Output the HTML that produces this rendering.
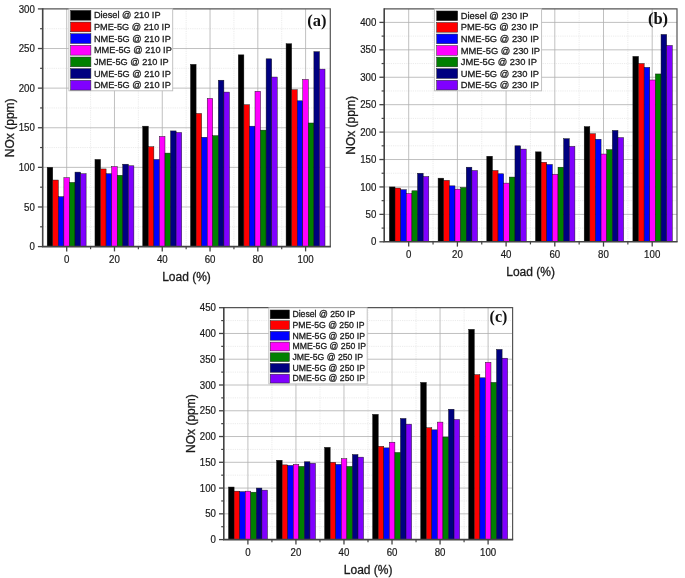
<!DOCTYPE html>
<html><head><meta charset="utf-8"><title>NOx vs Load</title>
<style>html,body{margin:0;padding:0;background:#fff;}svg{display:block;}svg{filter:blur(0.5px);}</style>
</head><body>
<svg width="685" height="578" viewBox="0 0 685 578" font-family="'Liberation Sans', sans-serif" fill="#1a1a1a">
<rect width="685" height="578" fill="#ffffff"/>
<g><line x1="42.7" y1="226.79" x2="330.3" y2="226.79" stroke="#e9e9e9" stroke-width="0.9" stroke-dasharray="1.2 1"/><line x1="42.7" y1="187.18" x2="330.3" y2="187.18" stroke="#e9e9e9" stroke-width="0.9" stroke-dasharray="1.2 1"/><line x1="42.7" y1="147.56" x2="330.3" y2="147.56" stroke="#e9e9e9" stroke-width="0.9" stroke-dasharray="1.2 1"/><line x1="42.7" y1="107.94" x2="330.3" y2="107.94" stroke="#e9e9e9" stroke-width="0.9" stroke-dasharray="1.2 1"/><line x1="42.7" y1="68.32" x2="330.3" y2="68.32" stroke="#e9e9e9" stroke-width="0.9" stroke-dasharray="1.2 1"/><line x1="42.7" y1="28.71" x2="330.3" y2="28.71" stroke="#e9e9e9" stroke-width="0.9" stroke-dasharray="1.2 1"/><line x1="90.59" y1="8.9" x2="90.59" y2="246.6" stroke="#e9e9e9" stroke-width="0.9" stroke-dasharray="1.2 1"/><line x1="138.37" y1="8.9" x2="138.37" y2="246.6" stroke="#e9e9e9" stroke-width="0.9" stroke-dasharray="1.2 1"/><line x1="186.15" y1="8.9" x2="186.15" y2="246.6" stroke="#e9e9e9" stroke-width="0.9" stroke-dasharray="1.2 1"/><line x1="233.93" y1="8.9" x2="233.93" y2="246.6" stroke="#e9e9e9" stroke-width="0.9" stroke-dasharray="1.2 1"/><line x1="281.71" y1="8.9" x2="281.71" y2="246.6" stroke="#e9e9e9" stroke-width="0.9" stroke-dasharray="1.2 1"/><line x1="42.7" y1="206.98" x2="330.3" y2="206.98" stroke="#b0b0b0" stroke-width="0.8"/><line x1="42.7" y1="167.37" x2="330.3" y2="167.37" stroke="#b0b0b0" stroke-width="0.8"/><line x1="42.7" y1="127.75" x2="330.3" y2="127.75" stroke="#b0b0b0" stroke-width="0.8"/><line x1="42.7" y1="88.13" x2="330.3" y2="88.13" stroke="#b0b0b0" stroke-width="0.8"/><line x1="42.7" y1="48.52" x2="330.3" y2="48.52" stroke="#b0b0b0" stroke-width="0.8"/><line x1="66.70" y1="8.9" x2="66.70" y2="246.6" stroke="#b0b0b0" stroke-width="0.8"/><line x1="114.48" y1="8.9" x2="114.48" y2="246.6" stroke="#b0b0b0" stroke-width="0.8"/><line x1="162.26" y1="8.9" x2="162.26" y2="246.6" stroke="#b0b0b0" stroke-width="0.8"/><line x1="210.04" y1="8.9" x2="210.04" y2="246.6" stroke="#b0b0b0" stroke-width="0.8"/><line x1="257.82" y1="8.9" x2="257.82" y2="246.6" stroke="#b0b0b0" stroke-width="0.8"/><line x1="305.60" y1="8.9" x2="305.60" y2="246.6" stroke="#b0b0b0" stroke-width="0.8"/></g>
<g><rect x="47.19" y="167.37" width="5.56" height="79.23" fill="#000000" stroke="#111" stroke-width="0.45"/><rect x="52.75" y="180.04" width="5.56" height="66.56" fill="#ff0000" stroke="#111" stroke-width="0.45"/><rect x="58.31" y="196.68" width="5.56" height="49.92" fill="#0000ff" stroke="#111" stroke-width="0.45"/><rect x="63.87" y="177.67" width="5.56" height="68.93" fill="#ff00ff" stroke="#111" stroke-width="0.45"/><rect x="69.43" y="182.42" width="5.56" height="64.18" fill="#008000" stroke="#111" stroke-width="0.45"/><rect x="74.99" y="172.12" width="5.56" height="74.48" fill="#000080" stroke="#111" stroke-width="0.45"/><rect x="80.55" y="173.71" width="5.56" height="72.89" fill="#8000ff" stroke="#111" stroke-width="0.45"/><rect x="94.97" y="159.44" width="5.56" height="87.16" fill="#000000" stroke="#111" stroke-width="0.45"/><rect x="100.53" y="168.95" width="5.56" height="77.65" fill="#ff0000" stroke="#111" stroke-width="0.45"/><rect x="106.09" y="173.71" width="5.56" height="72.89" fill="#0000ff" stroke="#111" stroke-width="0.45"/><rect x="111.65" y="166.57" width="5.56" height="80.03" fill="#ff00ff" stroke="#111" stroke-width="0.45"/><rect x="117.21" y="175.29" width="5.56" height="71.31" fill="#008000" stroke="#111" stroke-width="0.45"/><rect x="122.77" y="164.20" width="5.56" height="82.40" fill="#000080" stroke="#111" stroke-width="0.45"/><rect x="128.33" y="165.78" width="5.56" height="80.82" fill="#8000ff" stroke="#111" stroke-width="0.45"/><rect x="142.75" y="126.17" width="5.56" height="120.43" fill="#000000" stroke="#111" stroke-width="0.45"/><rect x="148.31" y="146.77" width="5.56" height="99.83" fill="#ff0000" stroke="#111" stroke-width="0.45"/><rect x="153.87" y="159.44" width="5.56" height="87.16" fill="#0000ff" stroke="#111" stroke-width="0.45"/><rect x="159.43" y="136.47" width="5.56" height="110.13" fill="#ff00ff" stroke="#111" stroke-width="0.45"/><rect x="164.99" y="153.10" width="5.56" height="93.50" fill="#008000" stroke="#111" stroke-width="0.45"/><rect x="170.55" y="130.92" width="5.56" height="115.68" fill="#000080" stroke="#111" stroke-width="0.45"/><rect x="176.11" y="132.50" width="5.56" height="114.10" fill="#8000ff" stroke="#111" stroke-width="0.45"/><rect x="190.53" y="64.36" width="5.56" height="182.24" fill="#000000" stroke="#111" stroke-width="0.45"/><rect x="196.09" y="113.49" width="5.56" height="133.11" fill="#ff0000" stroke="#111" stroke-width="0.45"/><rect x="201.65" y="137.26" width="5.56" height="109.34" fill="#0000ff" stroke="#111" stroke-width="0.45"/><rect x="207.21" y="98.43" width="5.56" height="148.17" fill="#ff00ff" stroke="#111" stroke-width="0.45"/><rect x="212.77" y="135.67" width="5.56" height="110.93" fill="#008000" stroke="#111" stroke-width="0.45"/><rect x="218.33" y="80.21" width="5.56" height="166.39" fill="#000080" stroke="#111" stroke-width="0.45"/><rect x="223.89" y="92.09" width="5.56" height="154.50" fill="#8000ff" stroke="#111" stroke-width="0.45"/><rect x="238.31" y="54.86" width="5.56" height="191.74" fill="#000000" stroke="#111" stroke-width="0.45"/><rect x="243.87" y="104.77" width="5.56" height="141.83" fill="#ff0000" stroke="#111" stroke-width="0.45"/><rect x="249.43" y="126.17" width="5.56" height="120.43" fill="#0000ff" stroke="#111" stroke-width="0.45"/><rect x="254.99" y="91.30" width="5.56" height="155.30" fill="#ff00ff" stroke="#111" stroke-width="0.45"/><rect x="260.55" y="130.13" width="5.56" height="116.47" fill="#008000" stroke="#111" stroke-width="0.45"/><rect x="266.11" y="58.82" width="5.56" height="187.78" fill="#000080" stroke="#111" stroke-width="0.45"/><rect x="271.67" y="77.04" width="5.56" height="169.56" fill="#8000ff" stroke="#111" stroke-width="0.45"/><rect x="286.09" y="43.76" width="5.56" height="202.84" fill="#000000" stroke="#111" stroke-width="0.45"/><rect x="291.65" y="89.72" width="5.56" height="156.88" fill="#ff0000" stroke="#111" stroke-width="0.45"/><rect x="297.21" y="100.81" width="5.56" height="145.79" fill="#0000ff" stroke="#111" stroke-width="0.45"/><rect x="302.77" y="79.42" width="5.56" height="167.18" fill="#ff00ff" stroke="#111" stroke-width="0.45"/><rect x="308.33" y="123.00" width="5.56" height="123.60" fill="#008000" stroke="#111" stroke-width="0.45"/><rect x="313.89" y="51.69" width="5.56" height="194.91" fill="#000080" stroke="#111" stroke-width="0.45"/><rect x="319.45" y="69.12" width="5.56" height="177.48" fill="#8000ff" stroke="#111" stroke-width="0.45"/></g>
<path d="M42.7 8.9H330.3V246.6" fill="none" stroke="#555555" stroke-width="1.2"/>
<path d="M42.7 8.3V246.6H330.9" fill="none" stroke="#444444" stroke-width="1.6"/>
<g><line x1="37.9" y1="246.60" x2="42.7" y2="246.60" stroke="#444444" stroke-width="1.3"/><text transform="translate(34.90 250.20) scale(0.97 1)" font-size="10" text-anchor="end" stroke="#1a1a1a" stroke-width="0.2">0</text><line x1="40.1" y1="226.79" x2="42.7" y2="226.79" stroke="#444444" stroke-width="1.2"/><line x1="37.9" y1="206.98" x2="42.7" y2="206.98" stroke="#444444" stroke-width="1.3"/><text transform="translate(34.90 210.58) scale(0.97 1)" font-size="10" text-anchor="end" stroke="#1a1a1a" stroke-width="0.2">50</text><line x1="40.1" y1="187.18" x2="42.7" y2="187.18" stroke="#444444" stroke-width="1.2"/><line x1="37.9" y1="167.37" x2="42.7" y2="167.37" stroke="#444444" stroke-width="1.3"/><text transform="translate(34.90 170.97) scale(0.97 1)" font-size="10" text-anchor="end" stroke="#1a1a1a" stroke-width="0.2">100</text><line x1="40.1" y1="147.56" x2="42.7" y2="147.56" stroke="#444444" stroke-width="1.2"/><line x1="37.9" y1="127.75" x2="42.7" y2="127.75" stroke="#444444" stroke-width="1.3"/><text transform="translate(34.90 131.35) scale(0.97 1)" font-size="10" text-anchor="end" stroke="#1a1a1a" stroke-width="0.2">150</text><line x1="40.1" y1="107.94" x2="42.7" y2="107.94" stroke="#444444" stroke-width="1.2"/><line x1="37.9" y1="88.13" x2="42.7" y2="88.13" stroke="#444444" stroke-width="1.3"/><text transform="translate(34.90 91.73) scale(0.97 1)" font-size="10" text-anchor="end" stroke="#1a1a1a" stroke-width="0.2">200</text><line x1="40.1" y1="68.32" x2="42.7" y2="68.32" stroke="#444444" stroke-width="1.2"/><line x1="37.9" y1="48.52" x2="42.7" y2="48.52" stroke="#444444" stroke-width="1.3"/><text transform="translate(34.90 52.12) scale(0.97 1)" font-size="10" text-anchor="end" stroke="#1a1a1a" stroke-width="0.2">250</text><line x1="40.1" y1="28.71" x2="42.7" y2="28.71" stroke="#444444" stroke-width="1.2"/><line x1="37.9" y1="8.90" x2="42.7" y2="8.90" stroke="#444444" stroke-width="1.3"/><text transform="translate(34.90 12.50) scale(0.97 1)" font-size="10" text-anchor="end" stroke="#1a1a1a" stroke-width="0.2">300</text><line x1="66.70" y1="246.6" x2="66.70" y2="251.4" stroke="#444444" stroke-width="1.3"/><text transform="translate(66.70 262.60) scale(0.97 1)" font-size="10" text-anchor="middle" stroke="#1a1a1a" stroke-width="0.2">0</text><line x1="90.59" y1="246.6" x2="90.59" y2="249.2" stroke="#444444" stroke-width="1.2"/><line x1="114.48" y1="246.6" x2="114.48" y2="251.4" stroke="#444444" stroke-width="1.3"/><text transform="translate(114.48 262.60) scale(0.97 1)" font-size="10" text-anchor="middle" stroke="#1a1a1a" stroke-width="0.2">20</text><line x1="138.37" y1="246.6" x2="138.37" y2="249.2" stroke="#444444" stroke-width="1.2"/><line x1="162.26" y1="246.6" x2="162.26" y2="251.4" stroke="#444444" stroke-width="1.3"/><text transform="translate(162.26 262.60) scale(0.97 1)" font-size="10" text-anchor="middle" stroke="#1a1a1a" stroke-width="0.2">40</text><line x1="186.15" y1="246.6" x2="186.15" y2="249.2" stroke="#444444" stroke-width="1.2"/><line x1="210.04" y1="246.6" x2="210.04" y2="251.4" stroke="#444444" stroke-width="1.3"/><text transform="translate(210.04 262.60) scale(0.97 1)" font-size="10" text-anchor="middle" stroke="#1a1a1a" stroke-width="0.2">60</text><line x1="233.93" y1="246.6" x2="233.93" y2="249.2" stroke="#444444" stroke-width="1.2"/><line x1="257.82" y1="246.6" x2="257.82" y2="251.4" stroke="#444444" stroke-width="1.3"/><text transform="translate(257.82 262.60) scale(0.97 1)" font-size="10" text-anchor="middle" stroke="#1a1a1a" stroke-width="0.2">80</text><line x1="281.71" y1="246.6" x2="281.71" y2="249.2" stroke="#444444" stroke-width="1.2"/><line x1="305.60" y1="246.6" x2="305.60" y2="251.4" stroke="#444444" stroke-width="1.3"/><text transform="translate(305.60 262.60) scale(0.97 1)" font-size="10" text-anchor="middle" stroke="#1a1a1a" stroke-width="0.2">100</text></g>
<text x="186.50" y="281.20" font-size="12" text-anchor="middle" stroke="#1a1a1a" stroke-width="0.3">Load (%)</text>
<text transform="translate(13.9 127.8) rotate(-90)" font-size="12" text-anchor="middle" stroke="#1a1a1a" stroke-width="0.3">NOx (ppm)</text>
<g><rect x="68.9" y="8.9" width="103.8" height="81.9" fill="#ffffff" stroke="#bdbdbd" stroke-width="0.9"/><rect x="70.6" y="10.43" width="20.3" height="9.75" fill="#000000" stroke="#222" stroke-width="0.5"/><text transform="translate(93.90 18.31) scale(0.95 1)" font-size="9.7" text-anchor="start" stroke="#1a1a1a" stroke-width="0.3">Diesel @ 210 IP</text><rect x="70.6" y="22.08" width="20.3" height="9.75" fill="#ff0000" stroke="#222" stroke-width="0.5"/><text transform="translate(93.90 29.96) scale(0.95 1)" font-size="9.7" text-anchor="start" stroke="#1a1a1a" stroke-width="0.3">PME-5G @ 210 IP</text><rect x="70.6" y="33.73" width="20.3" height="9.75" fill="#0000ff" stroke="#222" stroke-width="0.5"/><text transform="translate(93.90 41.61) scale(0.95 1)" font-size="9.7" text-anchor="start" stroke="#1a1a1a" stroke-width="0.3">NME-5G @ 210 IP</text><rect x="70.6" y="45.38" width="20.3" height="9.75" fill="#ff00ff" stroke="#222" stroke-width="0.5"/><text transform="translate(93.90 53.26) scale(0.95 1)" font-size="9.7" text-anchor="start" stroke="#1a1a1a" stroke-width="0.3">MME-5G @ 210 IP</text><rect x="70.6" y="57.03" width="20.3" height="9.75" fill="#008000" stroke="#222" stroke-width="0.5"/><text transform="translate(93.90 64.91) scale(0.95 1)" font-size="9.7" text-anchor="start" stroke="#1a1a1a" stroke-width="0.3">JME-5G @ 210 IP</text><rect x="70.6" y="68.67" width="20.3" height="9.75" fill="#000080" stroke="#222" stroke-width="0.5"/><text transform="translate(93.90 76.56) scale(0.95 1)" font-size="9.7" text-anchor="start" stroke="#1a1a1a" stroke-width="0.3">UME-5G @ 210 IP</text><rect x="70.6" y="80.33" width="20.3" height="9.75" fill="#8000ff" stroke="#222" stroke-width="0.5"/><text transform="translate(93.90 88.21) scale(0.95 1)" font-size="9.7" text-anchor="start" stroke="#1a1a1a" stroke-width="0.3">DME-5G @ 210 IP</text></g>
<text x="316.8" y="25.8" font-family="'Liberation Serif', serif" font-weight="bold" font-size="16.5" text-anchor="middle" fill="#111">(a)</text>
<g><line x1="384.2" y1="228.09" x2="677.0" y2="228.09" stroke="#e9e9e9" stroke-width="0.9" stroke-dasharray="1.2 1"/><line x1="384.2" y1="200.66" x2="677.0" y2="200.66" stroke="#e9e9e9" stroke-width="0.9" stroke-dasharray="1.2 1"/><line x1="384.2" y1="173.24" x2="677.0" y2="173.24" stroke="#e9e9e9" stroke-width="0.9" stroke-dasharray="1.2 1"/><line x1="384.2" y1="145.81" x2="677.0" y2="145.81" stroke="#e9e9e9" stroke-width="0.9" stroke-dasharray="1.2 1"/><line x1="384.2" y1="118.39" x2="677.0" y2="118.39" stroke="#e9e9e9" stroke-width="0.9" stroke-dasharray="1.2 1"/><line x1="384.2" y1="90.96" x2="677.0" y2="90.96" stroke="#e9e9e9" stroke-width="0.9" stroke-dasharray="1.2 1"/><line x1="384.2" y1="63.54" x2="677.0" y2="63.54" stroke="#e9e9e9" stroke-width="0.9" stroke-dasharray="1.2 1"/><line x1="384.2" y1="36.11" x2="677.0" y2="36.11" stroke="#e9e9e9" stroke-width="0.9" stroke-dasharray="1.2 1"/><line x1="433.05" y1="8.9" x2="433.05" y2="241.8" stroke="#e9e9e9" stroke-width="0.9" stroke-dasharray="1.2 1"/><line x1="481.75" y1="8.9" x2="481.75" y2="241.8" stroke="#e9e9e9" stroke-width="0.9" stroke-dasharray="1.2 1"/><line x1="530.45" y1="8.9" x2="530.45" y2="241.8" stroke="#e9e9e9" stroke-width="0.9" stroke-dasharray="1.2 1"/><line x1="579.15" y1="8.9" x2="579.15" y2="241.8" stroke="#e9e9e9" stroke-width="0.9" stroke-dasharray="1.2 1"/><line x1="627.85" y1="8.9" x2="627.85" y2="241.8" stroke="#e9e9e9" stroke-width="0.9" stroke-dasharray="1.2 1"/><line x1="384.2" y1="214.38" x2="677.0" y2="214.38" stroke="#b0b0b0" stroke-width="0.8"/><line x1="384.2" y1="186.95" x2="677.0" y2="186.95" stroke="#b0b0b0" stroke-width="0.8"/><line x1="384.2" y1="159.53" x2="677.0" y2="159.53" stroke="#b0b0b0" stroke-width="0.8"/><line x1="384.2" y1="132.10" x2="677.0" y2="132.10" stroke="#b0b0b0" stroke-width="0.8"/><line x1="384.2" y1="104.68" x2="677.0" y2="104.68" stroke="#b0b0b0" stroke-width="0.8"/><line x1="384.2" y1="77.25" x2="677.0" y2="77.25" stroke="#b0b0b0" stroke-width="0.8"/><line x1="384.2" y1="49.83" x2="677.0" y2="49.83" stroke="#b0b0b0" stroke-width="0.8"/><line x1="384.2" y1="22.40" x2="677.0" y2="22.40" stroke="#b0b0b0" stroke-width="0.8"/><line x1="408.70" y1="8.9" x2="408.70" y2="241.8" stroke="#b0b0b0" stroke-width="0.8"/><line x1="457.40" y1="8.9" x2="457.40" y2="241.8" stroke="#b0b0b0" stroke-width="0.8"/><line x1="506.10" y1="8.9" x2="506.10" y2="241.8" stroke="#b0b0b0" stroke-width="0.8"/><line x1="554.80" y1="8.9" x2="554.80" y2="241.8" stroke="#b0b0b0" stroke-width="0.8"/><line x1="603.50" y1="8.9" x2="603.50" y2="241.8" stroke="#b0b0b0" stroke-width="0.8"/><line x1="652.20" y1="8.9" x2="652.20" y2="241.8" stroke="#b0b0b0" stroke-width="0.8"/></g>
<g><rect x="389.39" y="186.95" width="5.63" height="54.85" fill="#000000" stroke="#111" stroke-width="0.45"/><rect x="395.02" y="188.05" width="5.63" height="53.75" fill="#ff0000" stroke="#111" stroke-width="0.45"/><rect x="400.65" y="189.69" width="5.63" height="52.11" fill="#0000ff" stroke="#111" stroke-width="0.45"/><rect x="406.28" y="193.53" width="5.63" height="48.27" fill="#ff00ff" stroke="#111" stroke-width="0.45"/><rect x="411.91" y="190.79" width="5.63" height="51.01" fill="#008000" stroke="#111" stroke-width="0.45"/><rect x="417.54" y="173.24" width="5.63" height="68.56" fill="#000080" stroke="#111" stroke-width="0.45"/><rect x="423.17" y="176.53" width="5.63" height="65.27" fill="#8000ff" stroke="#111" stroke-width="0.45"/><rect x="438.09" y="178.17" width="5.63" height="63.63" fill="#000000" stroke="#111" stroke-width="0.45"/><rect x="443.72" y="180.37" width="5.63" height="61.43" fill="#ff0000" stroke="#111" stroke-width="0.45"/><rect x="449.35" y="185.85" width="5.63" height="55.95" fill="#0000ff" stroke="#111" stroke-width="0.45"/><rect x="454.98" y="189.14" width="5.63" height="52.66" fill="#ff00ff" stroke="#111" stroke-width="0.45"/><rect x="460.61" y="187.50" width="5.63" height="54.30" fill="#008000" stroke="#111" stroke-width="0.45"/><rect x="466.24" y="167.20" width="5.63" height="74.60" fill="#000080" stroke="#111" stroke-width="0.45"/><rect x="471.88" y="170.50" width="5.63" height="71.31" fill="#8000ff" stroke="#111" stroke-width="0.45"/><rect x="486.80" y="156.23" width="5.63" height="85.57" fill="#000000" stroke="#111" stroke-width="0.45"/><rect x="492.43" y="170.50" width="5.63" height="71.31" fill="#ff0000" stroke="#111" stroke-width="0.45"/><rect x="498.06" y="173.79" width="5.63" height="68.01" fill="#0000ff" stroke="#111" stroke-width="0.45"/><rect x="503.69" y="183.11" width="5.63" height="58.69" fill="#ff00ff" stroke="#111" stroke-width="0.45"/><rect x="509.31" y="177.08" width="5.63" height="64.72" fill="#008000" stroke="#111" stroke-width="0.45"/><rect x="514.95" y="145.81" width="5.63" height="95.99" fill="#000080" stroke="#111" stroke-width="0.45"/><rect x="520.58" y="149.10" width="5.63" height="92.70" fill="#8000ff" stroke="#111" stroke-width="0.45"/><rect x="535.49" y="151.85" width="5.63" height="89.95" fill="#000000" stroke="#111" stroke-width="0.45"/><rect x="541.12" y="162.27" width="5.63" height="79.53" fill="#ff0000" stroke="#111" stroke-width="0.45"/><rect x="546.75" y="164.46" width="5.63" height="77.34" fill="#0000ff" stroke="#111" stroke-width="0.45"/><rect x="552.38" y="174.33" width="5.63" height="67.47" fill="#ff00ff" stroke="#111" stroke-width="0.45"/><rect x="558.01" y="167.20" width="5.63" height="74.60" fill="#008000" stroke="#111" stroke-width="0.45"/><rect x="563.64" y="138.68" width="5.63" height="103.12" fill="#000080" stroke="#111" stroke-width="0.45"/><rect x="569.27" y="146.36" width="5.63" height="95.44" fill="#8000ff" stroke="#111" stroke-width="0.45"/><rect x="584.19" y="126.62" width="5.63" height="115.19" fill="#000000" stroke="#111" stroke-width="0.45"/><rect x="589.82" y="133.75" width="5.63" height="108.05" fill="#ff0000" stroke="#111" stroke-width="0.45"/><rect x="595.45" y="139.23" width="5.63" height="102.57" fill="#0000ff" stroke="#111" stroke-width="0.45"/><rect x="601.08" y="154.04" width="5.63" height="87.76" fill="#ff00ff" stroke="#111" stroke-width="0.45"/><rect x="606.71" y="149.65" width="5.63" height="92.15" fill="#008000" stroke="#111" stroke-width="0.45"/><rect x="612.34" y="130.45" width="5.63" height="111.35" fill="#000080" stroke="#111" stroke-width="0.45"/><rect x="617.97" y="137.59" width="5.63" height="104.22" fill="#8000ff" stroke="#111" stroke-width="0.45"/><rect x="632.89" y="56.41" width="5.63" height="185.39" fill="#000000" stroke="#111" stroke-width="0.45"/><rect x="638.52" y="63.54" width="5.63" height="178.26" fill="#ff0000" stroke="#111" stroke-width="0.45"/><rect x="644.15" y="67.38" width="5.63" height="174.42" fill="#0000ff" stroke="#111" stroke-width="0.45"/><rect x="649.78" y="79.99" width="5.63" height="161.81" fill="#ff00ff" stroke="#111" stroke-width="0.45"/><rect x="655.41" y="73.96" width="5.63" height="167.84" fill="#008000" stroke="#111" stroke-width="0.45"/><rect x="661.04" y="34.47" width="5.63" height="207.33" fill="#000080" stroke="#111" stroke-width="0.45"/><rect x="666.67" y="45.44" width="5.63" height="196.36" fill="#8000ff" stroke="#111" stroke-width="0.45"/></g>
<path d="M384.2 8.9H677.0V241.8" fill="none" stroke="#555555" stroke-width="1.2"/>
<path d="M384.2 8.3V241.8H677.6" fill="none" stroke="#444444" stroke-width="1.6"/>
<g><line x1="379.4" y1="241.80" x2="384.2" y2="241.80" stroke="#444444" stroke-width="1.3"/><text transform="translate(376.40 245.40) scale(0.97 1)" font-size="10" text-anchor="end" stroke="#1a1a1a" stroke-width="0.2">0</text><line x1="381.6" y1="228.09" x2="384.2" y2="228.09" stroke="#444444" stroke-width="1.2"/><line x1="379.4" y1="214.38" x2="384.2" y2="214.38" stroke="#444444" stroke-width="1.3"/><text transform="translate(376.40 217.97) scale(0.97 1)" font-size="10" text-anchor="end" stroke="#1a1a1a" stroke-width="0.2">50</text><line x1="381.6" y1="200.66" x2="384.2" y2="200.66" stroke="#444444" stroke-width="1.2"/><line x1="379.4" y1="186.95" x2="384.2" y2="186.95" stroke="#444444" stroke-width="1.3"/><text transform="translate(376.40 190.55) scale(0.97 1)" font-size="10" text-anchor="end" stroke="#1a1a1a" stroke-width="0.2">100</text><line x1="381.6" y1="173.24" x2="384.2" y2="173.24" stroke="#444444" stroke-width="1.2"/><line x1="379.4" y1="159.53" x2="384.2" y2="159.53" stroke="#444444" stroke-width="1.3"/><text transform="translate(376.40 163.13) scale(0.97 1)" font-size="10" text-anchor="end" stroke="#1a1a1a" stroke-width="0.2">150</text><line x1="381.6" y1="145.81" x2="384.2" y2="145.81" stroke="#444444" stroke-width="1.2"/><line x1="379.4" y1="132.10" x2="384.2" y2="132.10" stroke="#444444" stroke-width="1.3"/><text transform="translate(376.40 135.70) scale(0.97 1)" font-size="10" text-anchor="end" stroke="#1a1a1a" stroke-width="0.2">200</text><line x1="381.6" y1="118.39" x2="384.2" y2="118.39" stroke="#444444" stroke-width="1.2"/><line x1="379.4" y1="104.68" x2="384.2" y2="104.68" stroke="#444444" stroke-width="1.3"/><text transform="translate(376.40 108.28) scale(0.97 1)" font-size="10" text-anchor="end" stroke="#1a1a1a" stroke-width="0.2">250</text><line x1="381.6" y1="90.96" x2="384.2" y2="90.96" stroke="#444444" stroke-width="1.2"/><line x1="379.4" y1="77.25" x2="384.2" y2="77.25" stroke="#444444" stroke-width="1.3"/><text transform="translate(376.40 80.85) scale(0.97 1)" font-size="10" text-anchor="end" stroke="#1a1a1a" stroke-width="0.2">300</text><line x1="381.6" y1="63.54" x2="384.2" y2="63.54" stroke="#444444" stroke-width="1.2"/><line x1="379.4" y1="49.83" x2="384.2" y2="49.83" stroke="#444444" stroke-width="1.3"/><text transform="translate(376.40 53.43) scale(0.97 1)" font-size="10" text-anchor="end" stroke="#1a1a1a" stroke-width="0.2">350</text><line x1="381.6" y1="36.11" x2="384.2" y2="36.11" stroke="#444444" stroke-width="1.2"/><line x1="379.4" y1="22.40" x2="384.2" y2="22.40" stroke="#444444" stroke-width="1.3"/><text transform="translate(376.40 26.00) scale(0.97 1)" font-size="10" text-anchor="end" stroke="#1a1a1a" stroke-width="0.2">400</text><line x1="408.70" y1="241.8" x2="408.70" y2="246.6" stroke="#444444" stroke-width="1.3"/><text transform="translate(408.70 257.80) scale(0.97 1)" font-size="10" text-anchor="middle" stroke="#1a1a1a" stroke-width="0.2">0</text><line x1="433.05" y1="241.8" x2="433.05" y2="244.4" stroke="#444444" stroke-width="1.2"/><line x1="457.40" y1="241.8" x2="457.40" y2="246.6" stroke="#444444" stroke-width="1.3"/><text transform="translate(457.40 257.80) scale(0.97 1)" font-size="10" text-anchor="middle" stroke="#1a1a1a" stroke-width="0.2">20</text><line x1="481.75" y1="241.8" x2="481.75" y2="244.4" stroke="#444444" stroke-width="1.2"/><line x1="506.10" y1="241.8" x2="506.10" y2="246.6" stroke="#444444" stroke-width="1.3"/><text transform="translate(506.10 257.80) scale(0.97 1)" font-size="10" text-anchor="middle" stroke="#1a1a1a" stroke-width="0.2">40</text><line x1="530.45" y1="241.8" x2="530.45" y2="244.4" stroke="#444444" stroke-width="1.2"/><line x1="554.80" y1="241.8" x2="554.80" y2="246.6" stroke="#444444" stroke-width="1.3"/><text transform="translate(554.80 257.80) scale(0.97 1)" font-size="10" text-anchor="middle" stroke="#1a1a1a" stroke-width="0.2">60</text><line x1="579.15" y1="241.8" x2="579.15" y2="244.4" stroke="#444444" stroke-width="1.2"/><line x1="603.50" y1="241.8" x2="603.50" y2="246.6" stroke="#444444" stroke-width="1.3"/><text transform="translate(603.50 257.80) scale(0.97 1)" font-size="10" text-anchor="middle" stroke="#1a1a1a" stroke-width="0.2">80</text><line x1="627.85" y1="241.8" x2="627.85" y2="244.4" stroke="#444444" stroke-width="1.2"/><line x1="652.20" y1="241.8" x2="652.20" y2="246.6" stroke="#444444" stroke-width="1.3"/><text transform="translate(652.20 257.80) scale(0.97 1)" font-size="10" text-anchor="middle" stroke="#1a1a1a" stroke-width="0.2">100</text></g>
<text x="530.60" y="276.40" font-size="12" text-anchor="middle" stroke="#1a1a1a" stroke-width="0.3">Load (%)</text>
<text transform="translate(355.4 125.4) rotate(-90)" font-size="12" text-anchor="middle" stroke="#1a1a1a" stroke-width="0.3">NOx (ppm)</text>
<g><rect x="434.4" y="8.9" width="107.2" height="81.9" fill="#ffffff" stroke="#bdbdbd" stroke-width="0.9"/><rect x="436.7" y="10.98" width="21.0" height="9.65" fill="#000000" stroke="#222" stroke-width="0.5"/><text transform="translate(460.70 18.86) scale(0.95 1)" font-size="9.88" text-anchor="start" stroke="#1a1a1a" stroke-width="0.3">Diesel @ 230 IP</text><rect x="436.7" y="22.53" width="21.0" height="9.65" fill="#ff0000" stroke="#222" stroke-width="0.5"/><text transform="translate(460.70 30.41) scale(0.95 1)" font-size="9.88" text-anchor="start" stroke="#1a1a1a" stroke-width="0.3">PME-5G @ 230 IP</text><rect x="436.7" y="34.08" width="21.0" height="9.65" fill="#0000ff" stroke="#222" stroke-width="0.5"/><text transform="translate(460.70 41.96) scale(0.95 1)" font-size="9.88" text-anchor="start" stroke="#1a1a1a" stroke-width="0.3">NME-5G @ 230 IP</text><rect x="436.7" y="45.62" width="21.0" height="9.65" fill="#ff00ff" stroke="#222" stroke-width="0.5"/><text transform="translate(460.70 53.51) scale(0.95 1)" font-size="9.88" text-anchor="start" stroke="#1a1a1a" stroke-width="0.3">MME-5G @ 230 IP</text><rect x="436.7" y="57.17" width="21.0" height="9.65" fill="#008000" stroke="#222" stroke-width="0.5"/><text transform="translate(460.70 65.06) scale(0.95 1)" font-size="9.88" text-anchor="start" stroke="#1a1a1a" stroke-width="0.3">JME-5G @ 230 IP</text><rect x="436.7" y="68.72" width="21.0" height="9.65" fill="#000080" stroke="#222" stroke-width="0.5"/><text transform="translate(460.70 76.61) scale(0.95 1)" font-size="9.88" text-anchor="start" stroke="#1a1a1a" stroke-width="0.3">UME-5G @ 230 IP</text><rect x="436.7" y="80.28" width="21.0" height="9.65" fill="#8000ff" stroke="#222" stroke-width="0.5"/><text transform="translate(460.70 88.16) scale(0.95 1)" font-size="9.88" text-anchor="start" stroke="#1a1a1a" stroke-width="0.3">DME-5G @ 230 IP</text></g>
<text x="658.0" y="23.9" font-family="'Liberation Serif', serif" font-weight="bold" font-size="16.5" text-anchor="middle" fill="#111">(b)</text>
<g><line x1="223.8" y1="526.72" x2="512.6" y2="526.72" stroke="#e9e9e9" stroke-width="0.9" stroke-dasharray="1.2 1"/><line x1="223.8" y1="500.95" x2="512.6" y2="500.95" stroke="#e9e9e9" stroke-width="0.9" stroke-dasharray="1.2 1"/><line x1="223.8" y1="475.18" x2="512.6" y2="475.18" stroke="#e9e9e9" stroke-width="0.9" stroke-dasharray="1.2 1"/><line x1="223.8" y1="449.42" x2="512.6" y2="449.42" stroke="#e9e9e9" stroke-width="0.9" stroke-dasharray="1.2 1"/><line x1="223.8" y1="423.65" x2="512.6" y2="423.65" stroke="#e9e9e9" stroke-width="0.9" stroke-dasharray="1.2 1"/><line x1="223.8" y1="397.88" x2="512.6" y2="397.88" stroke="#e9e9e9" stroke-width="0.9" stroke-dasharray="1.2 1"/><line x1="223.8" y1="372.12" x2="512.6" y2="372.12" stroke="#e9e9e9" stroke-width="0.9" stroke-dasharray="1.2 1"/><line x1="223.8" y1="346.35" x2="512.6" y2="346.35" stroke="#e9e9e9" stroke-width="0.9" stroke-dasharray="1.2 1"/><line x1="223.8" y1="320.58" x2="512.6" y2="320.58" stroke="#e9e9e9" stroke-width="0.9" stroke-dasharray="1.2 1"/><line x1="271.92" y1="307.7" x2="271.92" y2="539.6" stroke="#e9e9e9" stroke-width="0.9" stroke-dasharray="1.2 1"/><line x1="319.96" y1="307.7" x2="319.96" y2="539.6" stroke="#e9e9e9" stroke-width="0.9" stroke-dasharray="1.2 1"/><line x1="368.00" y1="307.7" x2="368.00" y2="539.6" stroke="#e9e9e9" stroke-width="0.9" stroke-dasharray="1.2 1"/><line x1="416.04" y1="307.7" x2="416.04" y2="539.6" stroke="#e9e9e9" stroke-width="0.9" stroke-dasharray="1.2 1"/><line x1="464.08" y1="307.7" x2="464.08" y2="539.6" stroke="#e9e9e9" stroke-width="0.9" stroke-dasharray="1.2 1"/><line x1="223.8" y1="513.83" x2="512.6" y2="513.83" stroke="#b0b0b0" stroke-width="0.8"/><line x1="223.8" y1="488.07" x2="512.6" y2="488.07" stroke="#b0b0b0" stroke-width="0.8"/><line x1="223.8" y1="462.30" x2="512.6" y2="462.30" stroke="#b0b0b0" stroke-width="0.8"/><line x1="223.8" y1="436.53" x2="512.6" y2="436.53" stroke="#b0b0b0" stroke-width="0.8"/><line x1="223.8" y1="410.77" x2="512.6" y2="410.77" stroke="#b0b0b0" stroke-width="0.8"/><line x1="223.8" y1="385.00" x2="512.6" y2="385.00" stroke="#b0b0b0" stroke-width="0.8"/><line x1="223.8" y1="359.23" x2="512.6" y2="359.23" stroke="#b0b0b0" stroke-width="0.8"/><line x1="223.8" y1="333.47" x2="512.6" y2="333.47" stroke="#b0b0b0" stroke-width="0.8"/><line x1="247.90" y1="307.7" x2="247.90" y2="539.6" stroke="#b0b0b0" stroke-width="0.8"/><line x1="295.94" y1="307.7" x2="295.94" y2="539.6" stroke="#b0b0b0" stroke-width="0.8"/><line x1="343.98" y1="307.7" x2="343.98" y2="539.6" stroke="#b0b0b0" stroke-width="0.8"/><line x1="392.02" y1="307.7" x2="392.02" y2="539.6" stroke="#b0b0b0" stroke-width="0.8"/><line x1="440.06" y1="307.7" x2="440.06" y2="539.6" stroke="#b0b0b0" stroke-width="0.8"/><line x1="488.10" y1="307.7" x2="488.10" y2="539.6" stroke="#b0b0b0" stroke-width="0.8"/></g>
<g><rect x="228.54" y="487.04" width="5.56" height="52.56" fill="#000000" stroke="#111" stroke-width="0.45"/><rect x="234.10" y="491.16" width="5.56" height="48.44" fill="#ff0000" stroke="#111" stroke-width="0.45"/><rect x="239.66" y="491.67" width="5.56" height="47.93" fill="#0000ff" stroke="#111" stroke-width="0.45"/><rect x="245.22" y="491.16" width="5.56" height="48.44" fill="#ff00ff" stroke="#111" stroke-width="0.45"/><rect x="250.78" y="492.19" width="5.56" height="47.41" fill="#008000" stroke="#111" stroke-width="0.45"/><rect x="256.34" y="488.07" width="5.56" height="51.53" fill="#000080" stroke="#111" stroke-width="0.45"/><rect x="261.90" y="490.13" width="5.56" height="49.47" fill="#8000ff" stroke="#111" stroke-width="0.45"/><rect x="276.58" y="460.24" width="5.56" height="79.36" fill="#000000" stroke="#111" stroke-width="0.45"/><rect x="282.14" y="464.88" width="5.56" height="74.72" fill="#ff0000" stroke="#111" stroke-width="0.45"/><rect x="287.70" y="465.39" width="5.56" height="74.21" fill="#0000ff" stroke="#111" stroke-width="0.45"/><rect x="293.26" y="464.36" width="5.56" height="75.24" fill="#ff00ff" stroke="#111" stroke-width="0.45"/><rect x="298.82" y="466.42" width="5.56" height="73.18" fill="#008000" stroke="#111" stroke-width="0.45"/><rect x="304.38" y="461.78" width="5.56" height="77.82" fill="#000080" stroke="#111" stroke-width="0.45"/><rect x="309.94" y="463.33" width="5.56" height="76.27" fill="#8000ff" stroke="#111" stroke-width="0.45"/><rect x="324.62" y="447.36" width="5.56" height="92.24" fill="#000000" stroke="#111" stroke-width="0.45"/><rect x="330.18" y="462.30" width="5.56" height="77.30" fill="#ff0000" stroke="#111" stroke-width="0.45"/><rect x="335.74" y="464.36" width="5.56" height="75.24" fill="#0000ff" stroke="#111" stroke-width="0.45"/><rect x="341.30" y="458.69" width="5.56" height="80.91" fill="#ff00ff" stroke="#111" stroke-width="0.45"/><rect x="346.86" y="466.42" width="5.56" height="73.18" fill="#008000" stroke="#111" stroke-width="0.45"/><rect x="352.42" y="454.57" width="5.56" height="85.03" fill="#000080" stroke="#111" stroke-width="0.45"/><rect x="357.98" y="457.15" width="5.56" height="82.45" fill="#8000ff" stroke="#111" stroke-width="0.45"/><rect x="372.66" y="414.37" width="5.56" height="125.23" fill="#000000" stroke="#111" stroke-width="0.45"/><rect x="378.22" y="446.32" width="5.56" height="93.28" fill="#ff0000" stroke="#111" stroke-width="0.45"/><rect x="383.78" y="447.87" width="5.56" height="91.73" fill="#0000ff" stroke="#111" stroke-width="0.45"/><rect x="389.34" y="442.20" width="5.56" height="97.40" fill="#ff00ff" stroke="#111" stroke-width="0.45"/><rect x="394.90" y="452.51" width="5.56" height="87.09" fill="#008000" stroke="#111" stroke-width="0.45"/><rect x="400.46" y="418.50" width="5.56" height="121.10" fill="#000080" stroke="#111" stroke-width="0.45"/><rect x="406.02" y="424.17" width="5.56" height="115.43" fill="#8000ff" stroke="#111" stroke-width="0.45"/><rect x="420.70" y="382.42" width="5.56" height="157.18" fill="#000000" stroke="#111" stroke-width="0.45"/><rect x="426.26" y="427.77" width="5.56" height="111.83" fill="#ff0000" stroke="#111" stroke-width="0.45"/><rect x="431.82" y="429.83" width="5.56" height="109.77" fill="#0000ff" stroke="#111" stroke-width="0.45"/><rect x="437.38" y="422.10" width="5.56" height="117.50" fill="#ff00ff" stroke="#111" stroke-width="0.45"/><rect x="442.94" y="437.05" width="5.56" height="102.55" fill="#008000" stroke="#111" stroke-width="0.45"/><rect x="448.50" y="409.22" width="5.56" height="130.38" fill="#000080" stroke="#111" stroke-width="0.45"/><rect x="454.06" y="419.53" width="5.56" height="120.07" fill="#8000ff" stroke="#111" stroke-width="0.45"/><rect x="468.74" y="329.34" width="5.56" height="210.26" fill="#000000" stroke="#111" stroke-width="0.45"/><rect x="474.30" y="374.69" width="5.56" height="164.91" fill="#ff0000" stroke="#111" stroke-width="0.45"/><rect x="479.86" y="377.79" width="5.56" height="161.81" fill="#0000ff" stroke="#111" stroke-width="0.45"/><rect x="485.42" y="362.33" width="5.56" height="177.27" fill="#ff00ff" stroke="#111" stroke-width="0.45"/><rect x="490.98" y="382.42" width="5.56" height="157.18" fill="#008000" stroke="#111" stroke-width="0.45"/><rect x="496.54" y="349.44" width="5.56" height="190.16" fill="#000080" stroke="#111" stroke-width="0.45"/><rect x="502.10" y="358.20" width="5.56" height="181.40" fill="#8000ff" stroke="#111" stroke-width="0.45"/></g>
<path d="M223.8 307.7H512.6V539.6" fill="none" stroke="#555555" stroke-width="1.2"/>
<path d="M223.8 307.1V539.6H513.2" fill="none" stroke="#444444" stroke-width="1.6"/>
<g><line x1="219.0" y1="539.60" x2="223.8" y2="539.60" stroke="#444444" stroke-width="1.3"/><text transform="translate(216.00 543.20) scale(0.97 1)" font-size="10" text-anchor="end" stroke="#1a1a1a" stroke-width="0.2">0</text><line x1="221.2" y1="526.72" x2="223.8" y2="526.72" stroke="#444444" stroke-width="1.2"/><line x1="219.0" y1="513.83" x2="223.8" y2="513.83" stroke="#444444" stroke-width="1.3"/><text transform="translate(216.00 517.43) scale(0.97 1)" font-size="10" text-anchor="end" stroke="#1a1a1a" stroke-width="0.2">50</text><line x1="221.2" y1="500.95" x2="223.8" y2="500.95" stroke="#444444" stroke-width="1.2"/><line x1="219.0" y1="488.07" x2="223.8" y2="488.07" stroke="#444444" stroke-width="1.3"/><text transform="translate(216.00 491.67) scale(0.97 1)" font-size="10" text-anchor="end" stroke="#1a1a1a" stroke-width="0.2">100</text><line x1="221.2" y1="475.18" x2="223.8" y2="475.18" stroke="#444444" stroke-width="1.2"/><line x1="219.0" y1="462.30" x2="223.8" y2="462.30" stroke="#444444" stroke-width="1.3"/><text transform="translate(216.00 465.90) scale(0.97 1)" font-size="10" text-anchor="end" stroke="#1a1a1a" stroke-width="0.2">150</text><line x1="221.2" y1="449.42" x2="223.8" y2="449.42" stroke="#444444" stroke-width="1.2"/><line x1="219.0" y1="436.53" x2="223.8" y2="436.53" stroke="#444444" stroke-width="1.3"/><text transform="translate(216.00 440.13) scale(0.97 1)" font-size="10" text-anchor="end" stroke="#1a1a1a" stroke-width="0.2">200</text><line x1="221.2" y1="423.65" x2="223.8" y2="423.65" stroke="#444444" stroke-width="1.2"/><line x1="219.0" y1="410.77" x2="223.8" y2="410.77" stroke="#444444" stroke-width="1.3"/><text transform="translate(216.00 414.37) scale(0.97 1)" font-size="10" text-anchor="end" stroke="#1a1a1a" stroke-width="0.2">250</text><line x1="221.2" y1="397.88" x2="223.8" y2="397.88" stroke="#444444" stroke-width="1.2"/><line x1="219.0" y1="385.00" x2="223.8" y2="385.00" stroke="#444444" stroke-width="1.3"/><text transform="translate(216.00 388.60) scale(0.97 1)" font-size="10" text-anchor="end" stroke="#1a1a1a" stroke-width="0.2">300</text><line x1="221.2" y1="372.12" x2="223.8" y2="372.12" stroke="#444444" stroke-width="1.2"/><line x1="219.0" y1="359.23" x2="223.8" y2="359.23" stroke="#444444" stroke-width="1.3"/><text transform="translate(216.00 362.83) scale(0.97 1)" font-size="10" text-anchor="end" stroke="#1a1a1a" stroke-width="0.2">350</text><line x1="221.2" y1="346.35" x2="223.8" y2="346.35" stroke="#444444" stroke-width="1.2"/><line x1="219.0" y1="333.47" x2="223.8" y2="333.47" stroke="#444444" stroke-width="1.3"/><text transform="translate(216.00 337.07) scale(0.97 1)" font-size="10" text-anchor="end" stroke="#1a1a1a" stroke-width="0.2">400</text><line x1="221.2" y1="320.58" x2="223.8" y2="320.58" stroke="#444444" stroke-width="1.2"/><line x1="219.0" y1="307.70" x2="223.8" y2="307.70" stroke="#444444" stroke-width="1.3"/><text transform="translate(216.00 311.30) scale(0.97 1)" font-size="10" text-anchor="end" stroke="#1a1a1a" stroke-width="0.2">450</text><line x1="247.90" y1="539.6" x2="247.90" y2="544.4" stroke="#444444" stroke-width="1.3"/><text transform="translate(247.90 555.60) scale(0.97 1)" font-size="10" text-anchor="middle" stroke="#1a1a1a" stroke-width="0.2">0</text><line x1="271.92" y1="539.6" x2="271.92" y2="542.2" stroke="#444444" stroke-width="1.2"/><line x1="295.94" y1="539.6" x2="295.94" y2="544.4" stroke="#444444" stroke-width="1.3"/><text transform="translate(295.94 555.60) scale(0.97 1)" font-size="10" text-anchor="middle" stroke="#1a1a1a" stroke-width="0.2">20</text><line x1="319.96" y1="539.6" x2="319.96" y2="542.2" stroke="#444444" stroke-width="1.2"/><line x1="343.98" y1="539.6" x2="343.98" y2="544.4" stroke="#444444" stroke-width="1.3"/><text transform="translate(343.98 555.60) scale(0.97 1)" font-size="10" text-anchor="middle" stroke="#1a1a1a" stroke-width="0.2">40</text><line x1="368.00" y1="539.6" x2="368.00" y2="542.2" stroke="#444444" stroke-width="1.2"/><line x1="392.02" y1="539.6" x2="392.02" y2="544.4" stroke="#444444" stroke-width="1.3"/><text transform="translate(392.02 555.60) scale(0.97 1)" font-size="10" text-anchor="middle" stroke="#1a1a1a" stroke-width="0.2">60</text><line x1="416.04" y1="539.6" x2="416.04" y2="542.2" stroke="#444444" stroke-width="1.2"/><line x1="440.06" y1="539.6" x2="440.06" y2="544.4" stroke="#444444" stroke-width="1.3"/><text transform="translate(440.06 555.60) scale(0.97 1)" font-size="10" text-anchor="middle" stroke="#1a1a1a" stroke-width="0.2">80</text><line x1="464.08" y1="539.6" x2="464.08" y2="542.2" stroke="#444444" stroke-width="1.2"/><line x1="488.10" y1="539.6" x2="488.10" y2="544.4" stroke="#444444" stroke-width="1.3"/><text transform="translate(488.10 555.60) scale(0.97 1)" font-size="10" text-anchor="middle" stroke="#1a1a1a" stroke-width="0.2">100</text></g>
<text x="368.20" y="574.20" font-size="12" text-anchor="middle" stroke="#1a1a1a" stroke-width="0.3">Load (%)</text>
<text transform="translate(195.0 423.6) rotate(-90)" font-size="12" text-anchor="middle" stroke="#1a1a1a" stroke-width="0.3">NOx (ppm)</text>
<g><rect x="268.8" y="307.8" width="98.4" height="76.1" fill="#ffffff" stroke="#bdbdbd" stroke-width="0.9"/><rect x="270.2" y="310.00" width="19.2" height="8.80" fill="#000000" stroke="#222" stroke-width="0.5"/><text transform="translate(292.40 317.24) scale(0.95 1)" font-size="9.16" text-anchor="start" stroke="#1a1a1a" stroke-width="0.3">Diesel @ 250 IP</text><rect x="270.2" y="320.70" width="19.2" height="8.80" fill="#ff0000" stroke="#222" stroke-width="0.5"/><text transform="translate(292.40 327.94) scale(0.95 1)" font-size="9.16" text-anchor="start" stroke="#1a1a1a" stroke-width="0.3">PME-5G @ 250 IP</text><rect x="270.2" y="331.40" width="19.2" height="8.80" fill="#0000ff" stroke="#222" stroke-width="0.5"/><text transform="translate(292.40 338.64) scale(0.95 1)" font-size="9.16" text-anchor="start" stroke="#1a1a1a" stroke-width="0.3">NME-5G @ 250 IP</text><rect x="270.2" y="342.10" width="19.2" height="8.80" fill="#ff00ff" stroke="#222" stroke-width="0.5"/><text transform="translate(292.40 349.34) scale(0.95 1)" font-size="9.16" text-anchor="start" stroke="#1a1a1a" stroke-width="0.3">MME-5G @ 250 IP</text><rect x="270.2" y="352.80" width="19.2" height="8.80" fill="#008000" stroke="#222" stroke-width="0.5"/><text transform="translate(292.40 360.04) scale(0.95 1)" font-size="9.16" text-anchor="start" stroke="#1a1a1a" stroke-width="0.3">JME-5G @ 250 IP</text><rect x="270.2" y="363.50" width="19.2" height="8.80" fill="#000080" stroke="#222" stroke-width="0.5"/><text transform="translate(292.40 370.74) scale(0.95 1)" font-size="9.16" text-anchor="start" stroke="#1a1a1a" stroke-width="0.3">UME-5G @ 250 IP</text><rect x="270.2" y="374.20" width="19.2" height="8.80" fill="#8000ff" stroke="#222" stroke-width="0.5"/><text transform="translate(292.40 381.44) scale(0.95 1)" font-size="9.16" text-anchor="start" stroke="#1a1a1a" stroke-width="0.3">DME-5G @ 250 IP</text></g>
<text x="498.5" y="322.0" font-family="'Liberation Serif', serif" font-weight="bold" font-size="16" text-anchor="middle" fill="#111">(c)</text>
</svg>
</body></html>
